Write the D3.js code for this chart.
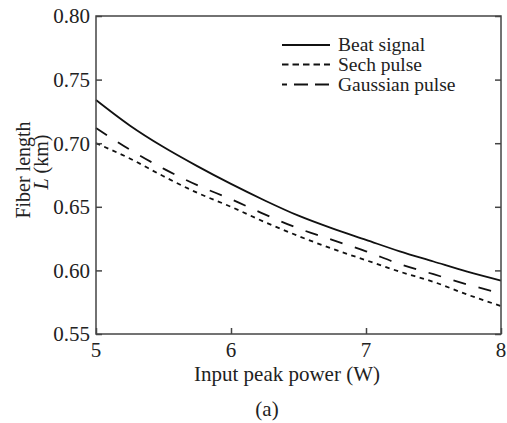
<!DOCTYPE html>
<html><head><meta charset="utf-8">
<script src="https://cdn.jsdelivr.net/npm/d3@7/dist/d3.min.js"></script>
<style>
body{margin:0;background:#fff;}
svg text{font-family:"Liberation Serif","Times New Roman",serif;fill:#222;}
</style></head>
<body><svg id="c" width="507" height="423"></svg>
<script>
const power = [5, 5.25, 5.5, 5.75, 6, 6.25, 6.5, 6.75, 7, 7.25, 7.5, 7.75, 8];
const beatSignal = [0.734, 0.714, 0.697, 0.682, 0.668, 0.655, 0.643, 0.633, 0.624, 0.615, 0.607, 0.599, 0.592];
const gaussianPulse = [0.712, 0.695, 0.680, 0.667, 0.656, 0.644, 0.633, 0.624, 0.615, 0.605, 0.597, 0.589, 0.582];
const sechPulse = [0.700, 0.688, 0.674, 0.661, 0.650, 0.638, 0.627, 0.617, 0.608, 0.599, 0.591, 0.581, 0.572];
const xTicks = [5, 6, 7, 8];
const yTicks = [0.55, 0.60, 0.65, 0.70, 0.75, 0.80];
const seriesNames = ["Beat signal", "Sech pulse", "Gaussian pulse"];

const svg = d3.select("#c");
const L = 96, R = 501, T = 16, B = 334;
const x = d3.scaleLinear().domain([5, 8]).range([L, R]);
const y = d3.scaleLinear().domain([0.55, 0.80]).range([B, T]);

const series = [
  {name: seriesNames[0], vals: beatSignal, dash: null, legDash: null, legOff: 0},
  {name: seriesNames[1], vals: sechPulse, dash: "4.5,4.5", legDash: "6.5,4", legOff: 0},
  {name: seriesNames[2], vals: gaussianPulse, dash: "13,13", legDash: "14,7", legOff: 9}
];

const line = d3.line().x(d => x(d[0])).y(d => y(d[1])).curve(d3.curveMonotoneX);
series.forEach(s => {
  svg.append("path")
    .datum(power.map((p, i) => [p, s.vals[i]]))
    .attr("d", line)
    .attr("fill", "none").attr("stroke", "#111").attr("stroke-width", 1.8)
    .attr("stroke-dasharray", s.dash);
});

// axes (inward ticks)
const tickStyle = g => { g.selectAll(".domain").remove(); g.selectAll("line").attr("stroke", "#444").attr("stroke-width", 1.5); g.selectAll("text").remove(); };
svg.append("g").attr("transform", `translate(0,${B})`).call(d3.axisTop(x).tickValues(xTicks).tickSize(6)).call(tickStyle);
svg.append("g").attr("transform", `translate(${L},0)`).call(d3.axisRight(y).tickValues(yTicks).tickSize(6)).call(tickStyle);
svg.append("g").attr("transform", `translate(${R},0)`).call(d3.axisLeft(y).tickValues(yTicks).tickSize(6)).call(tickStyle);

svg.append("rect").attr("x", L).attr("y", T).attr("width", R - L).attr("height", B - T)
  .attr("fill", "none").attr("stroke", "#444").attr("stroke-width", 1.5);

// tick labels
svg.selectAll(".xl").data(xTicks).join("text")
  .attr("x", d => x(d)).attr("y", 357).attr("text-anchor", "middle")
  .attr("font-size", 21).text(d => d);
svg.selectAll(".yl").data(yTicks).join("text")
  .attr("x", 90).attr("y", d => y(d)).attr("dy", "0.35em").attr("text-anchor", "end")
  .attr("font-size", 21).text(d => d3.format(".2f")(d));

// axis titles
svg.append("text").attr("x", 287).attr("y", 381).attr("text-anchor", "middle")
  .attr("font-size", 21).text("Input peak power (W)");
svg.append("text").attr("transform", "translate(30,170) rotate(-90)").attr("text-anchor", "middle")
  .attr("font-size", 20).text("Fiber length");
const t2 = svg.append("text").attr("transform", "translate(48,162) rotate(-90)").attr("text-anchor", "middle")
  .attr("font-size", 20);
t2.append("tspan").attr("font-style", "italic").text("L");
t2.append("tspan").text(" (km)");

svg.append("text").attr("x", 267).attr("y", 416).attr("text-anchor", "middle")
  .attr("font-size", 21).text("(a)");

// legend
const legY = [45, 64.5, 84.5];
series.forEach((s, i) => {
  svg.append("line").attr("x1", 282).attr("x2", 330).attr("y1", legY[i]).attr("y2", legY[i])
    .attr("stroke", "#111").attr("stroke-width", 1.8)
    .attr("stroke-dasharray", s.legDash).attr("stroke-dashoffset", s.legOff);
  svg.append("text").attr("x", 338).attr("y", legY[i]).attr("dy", "0.33em")
    .attr("font-size", 19.5).text(s.name);
});
</script></body></html>
